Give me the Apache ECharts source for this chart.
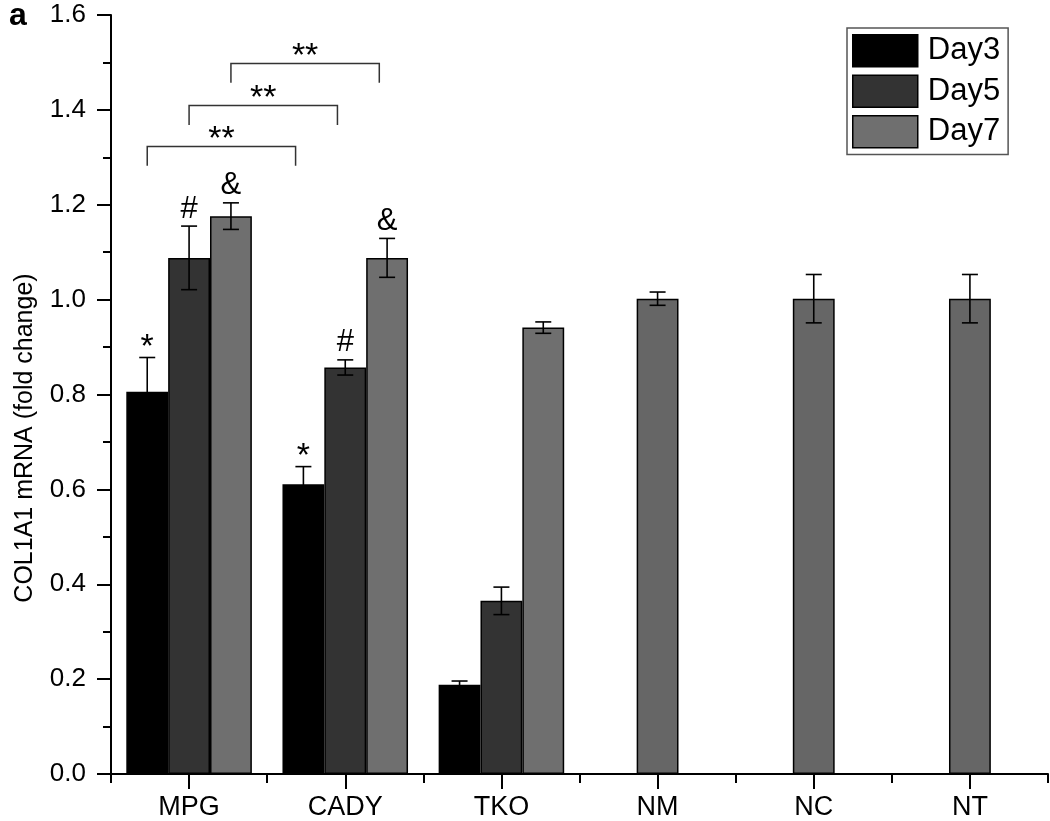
<!DOCTYPE html>
<html><head><meta charset="utf-8">
<script src="https://cdn.jsdelivr.net/npm/echarts@6/dist/echarts.min.js"></script>
<style>html,body{margin:0;padding:0;background:#fff}#c{width:1050px;height:821px}</style>
</head><body><div id="c"></div>
<script>
const categories = ['MPG', 'CADY', 'TKO', 'NM', 'NC', 'NT'];
const day3 = [0.806, 0.611, 0.188, null, null, null];
const day3Err = [0.072, 0.037, 0.008, null, null, null];
const day5 = [1.088, 0.857, 0.365, null, null, null];
const day5Err = [0.067, 0.016, 0.029, null, null, null];
const day7 = [1.176, 1.088, 0.941, null, null, null];
const day7Err = [0.028, 0.041, 0.012, null, null, null];
const control = [null, null, null, 1.002, 1.002, 1.002];
const controlErr = [null, null, null, 0.014, 0.051, 0.051];
const day3Marks = ['*', '*', '', '', '', ''];
const day5Marks = ['#', '#', '', '', '', ''];
const day7Marks = ['&', '&', '', '', '', ''];
const bracketLevels = [1.323, 1.409, 1.498];
const bracketLabels = ['**', '**', '**'];
const bracketLeg = 0.041;
const yTitle = 'COL1A1 mRNA (fold change)';
const panelLabel = 'a';

const FONT = '"Liberation Sans", Arial, Helvetica, sans-serif';
const BAR_RATIO = 0.268;
const C3 = '#000000', C5 = '#333333', C7 = '#6f6f6f', CC = '#666666';

const errItems = [];
[[day3, day3Err, day3Marks, -1], [day5, day5Err, day5Marks, 0], [day7, day7Err, day7Marks, 1], [control, controlErr, null, 0]]
  .forEach(([vals, errs, marks, off]) => {
    vals.forEach((v, i) => {
      if (v == null) return;
      errItems.push({ value: [i, v, errs[i], off], mark: marks ? marks[i] : '' });
    });
  });

function renderErr(params, api) {
  const item = errItems[params.dataIndex];
  const i = api.value(0), v = api.value(1), e = api.value(2), off = api.value(3);
  const band = api.size([1, 0])[0];
  const bw = band * BAR_RATIO;
  const x = api.coord([i, v])[0] + off * bw;
  const yT = api.coord([i, v + e])[1];
  const yB = api.coord([i, v - e])[1];
  const cap = 8;
  const st = { stroke: '#000', lineWidth: 1.6 };
  const ch = [
    { type: 'line', shape: { x1: x, y1: yT, x2: x, y2: yB }, style: st },
    { type: 'line', shape: { x1: x - cap, y1: yT, x2: x + cap, y2: yT }, style: st },
    { type: 'line', shape: { x1: x - cap, y1: yB, x2: x + cap, y2: yB }, style: st }
  ];
  if (item.mark) {
    const isStar = item.mark === '*';
    ch.push({ type: 'text', style: { text: item.mark, x: x, y: yT - (isStar ? 10 : 17), align: 'center', verticalAlign: 'middle',
      font: (isStar ? '34px ' : '31px ') + FONT, fill: '#000' } });
  }
  return { type: 'group', children: ch };
}

function renderBracket(params, api) {
  const k = params.dataIndex;
  const lv = bracketLevels[k];
  const off = k - 1;
  const band = api.size([1, 0])[0];
  const bw = band * BAR_RATIO;
  const xL = api.coord([0, lv])[0] + off * bw;
  const xR = api.coord([1, lv])[0] + off * bw - 0.05 * band;
  const y = api.coord([0, lv])[1];
  const yLeg = api.coord([0, lv - bracketLeg])[1];
  const st = { stroke: '#333', lineWidth: 1.5 };
  return { type: 'group', children: [
    { type: 'polyline', shape: { points: [[xL, yLeg], [xL, y], [xR, y], [xR, yLeg]] }, style: Object.assign({ fill: null }, st) },
    { type: 'text', style: { text: bracketLabels[k], x: (xL + xR) / 2, y: y - 7, align: 'center', verticalAlign: 'middle', font: '34px ' + FONT, fill: '#000' } }
  ] };
}

const chart = echarts.init(document.getElementById('c'), null, { renderer: 'canvas' });
const barCommon = { type: 'bar', barWidth: (BAR_RATIO * 100) + '%', barGap: '0%', itemStyle: { borderColor: '#000', borderWidth: 1.5 } };
chart.setOption({
  animation: false,
  backgroundColor: '#fff',
  textStyle: { fontFamily: FONT },
  grid: { left: 111, right: 2, top: 15, bottom: 43, containLabel: false },
  legend: {
    data: ['Day3', 'Day5', 'Day7'], orient: 'vertical', left: 847, top: 28,
    padding: [6, 8, 6, 5], itemWidth: 65, itemHeight: 32, itemGap: 7,
    borderColor: '#555', borderWidth: 1.5, selectedMode: false, icon: 'rect',
    itemStyle: { borderColor: '#000', borderWidth: 1.5 },
    textStyle: { fontSize: 31, color: '#000', fontFamily: FONT, padding: [0, 0, 0, 5] }
  },
  xAxis: [
    { type: 'category', data: categories, position: 'bottom',
      axisLine: { show: true, lineStyle: { color: '#000', width: 2 } },
      axisTick: { show: true, alignWithLabel: true, length: 15, lineStyle: { color: '#000', width: 2 } },
      axisLabel: { fontSize: 27, color: '#000', margin: 20, fontFamily: FONT } },
    { type: 'category', data: categories, position: 'bottom', offset: 0,
      axisLine: { show: false },
      axisTick: { show: true, alignWithLabel: false, length: 9, lineStyle: { color: '#000', width: 2 } },
      axisLabel: { show: false } }
  ],
  yAxis: {
    type: 'value', min: 0, max: 1.6, interval: 0.2,
    axisLine: { show: true, lineStyle: { color: '#000', width: 2 } },
    axisTick: { show: true, length: 14, lineStyle: { color: '#000', width: 2 } },
    minorTick: { show: true, splitNumber: 2, length: 8, lineStyle: { color: '#000', width: 2 } },
    splitLine: { show: false },
    axisLabel: { fontSize: 26, color: '#000', margin: 25, fontFamily: FONT, formatter: v => v.toFixed(1) }
  },
  graphic: [
    { type: 'text', left: 9, top: 0, style: { text: panelLabel, font: 'bold 32px ' + FONT, fill: '#000' } },
    { type: 'text', x: 25, y: 438, rotation: Math.PI / 2, style: { text: yTitle, font: '25px ' + FONT, fill: '#000', align: 'center', verticalAlign: 'middle' } }
  ],
  series: [
    Object.assign({ name: 'Day3', data: day3, color: C3 }, barCommon),
    Object.assign({ name: 'Day5', data: day5, color: C5 }, barCommon),
    Object.assign({ name: 'Day7', data: day7, color: C7 }, barCommon),
    Object.assign({ name: 'Day7', data: control, color: CC, xAxisIndex: 1 }, barCommon),
    { type: 'custom', name: 'err', xAxisIndex: 0, renderItem: renderErr, data: errItems.map(d => d.value), encode: { x: 0, y: 1 }, z: 5, silent: true },
    { type: 'custom', name: 'brackets', xAxisIndex: 0, renderItem: renderBracket, data: bracketLevels.map((lv, k) => [k, lv]), encode: { x: 0, y: 1 }, z: 5, silent: true, clip: false }
  ]
});
</script></body></html>
